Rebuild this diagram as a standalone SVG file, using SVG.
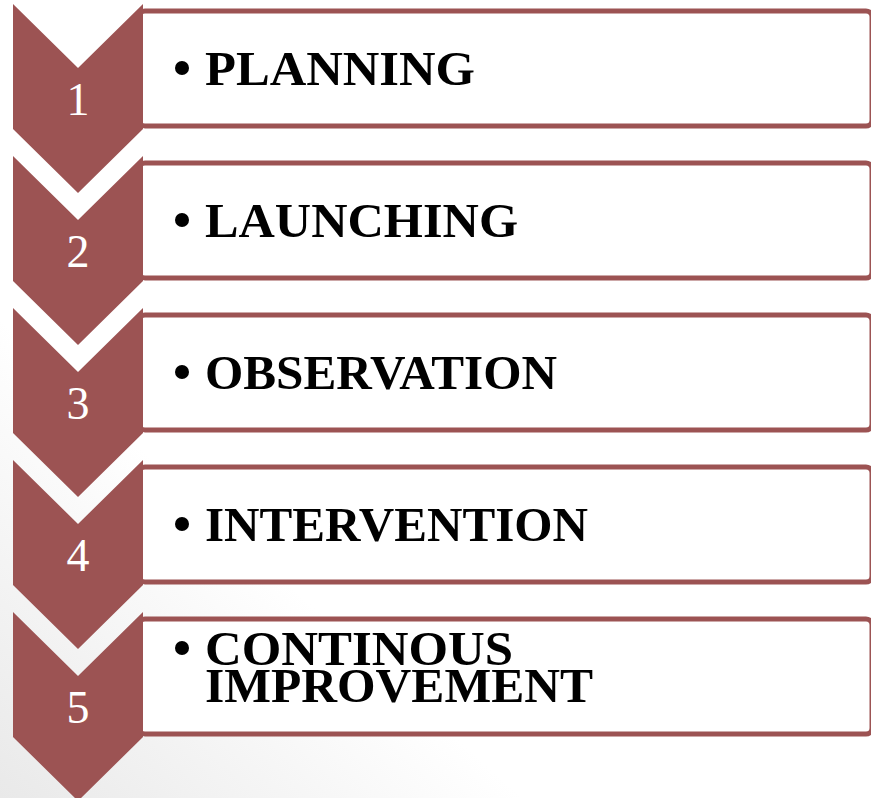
<svg xmlns="http://www.w3.org/2000/svg" width="871" height="798" viewBox="0 0 871 798">
<defs>
<linearGradient id="bg" x1="1" y1="0" x2="0" y2="1">
<stop offset="0.7" stop-color="#ffffff"/>
<stop offset="1" stop-color="#e9e9e9"/>
</linearGradient>
<path id="chev" d="M0,0 L65,64 L130,0 L130,125 L65,189 L0,125 Z"/>
</defs>
<style>
.chev{fill:#9C5353}
.box{fill:#ffffff;stroke:#9C5353;stroke-width:5}
.num{font-family:"Liberation Serif","Times New Roman",serif;font-size:46px;fill:#ffffff;text-anchor:middle}
.lbl{font-family:"Liberation Serif","Times New Roman",serif;font-weight:bold;font-size:48px;fill:#000000}
.dot{fill:#000000}
</style>
<rect width="871" height="798" fill="url(#bg)"/>
<g id="step1">
<rect class="box" x="139" y="11" width="733" height="115" rx="6"/>
<use href="#chev" class="chev" x="13" y="4"/>
<text class="num" x="78" y="115">1</text>
<circle class="dot" cx="182" cy="68" r="7"/>
<text class="lbl" x="205" y="85" textLength="270" lengthAdjust="spacingAndGlyphs">PLANNING</text>
</g>
<g id="step2">
<rect class="box" x="139" y="163" width="733" height="115" rx="6"/>
<use href="#chev" class="chev" x="13" y="156"/>
<text class="num" x="78" y="267">2</text>
<circle class="dot" cx="182" cy="220" r="7"/>
<text class="lbl" x="205" y="237" textLength="313" lengthAdjust="spacingAndGlyphs">LAUNCHING</text>
</g>
<g id="step3">
<rect class="box" x="139" y="315" width="733" height="115" rx="6"/>
<use href="#chev" class="chev" x="13" y="308"/>
<text class="num" x="78" y="419">3</text>
<circle class="dot" cx="182" cy="372" r="7"/>
<text class="lbl" x="205" y="389" textLength="352" lengthAdjust="spacingAndGlyphs">OBSERVATION</text>
</g>
<g id="step4">
<rect class="box" x="139" y="467" width="733" height="115" rx="6"/>
<use href="#chev" class="chev" x="13" y="460"/>
<text class="num" x="78" y="571">4</text>
<circle class="dot" cx="182" cy="524" r="7"/>
<text class="lbl" x="205" y="541" textLength="383" lengthAdjust="spacingAndGlyphs">INTERVENTION</text>
</g>
<g id="step5">
<rect class="box" x="139" y="619" width="733" height="115" rx="6"/>
<use href="#chev" class="chev" x="13" y="612"/>
<text class="num" x="78" y="723">5</text>
<circle class="dot" cx="182" cy="648" r="7"/>
<text class="lbl" x="205" y="665" textLength="308" lengthAdjust="spacingAndGlyphs">CONTINOUS</text>
<text class="lbl" x="205" y="702" textLength="388" lengthAdjust="spacingAndGlyphs">IMPROVEMENT</text>
</g>
<g id="connectors"/>
</svg>
